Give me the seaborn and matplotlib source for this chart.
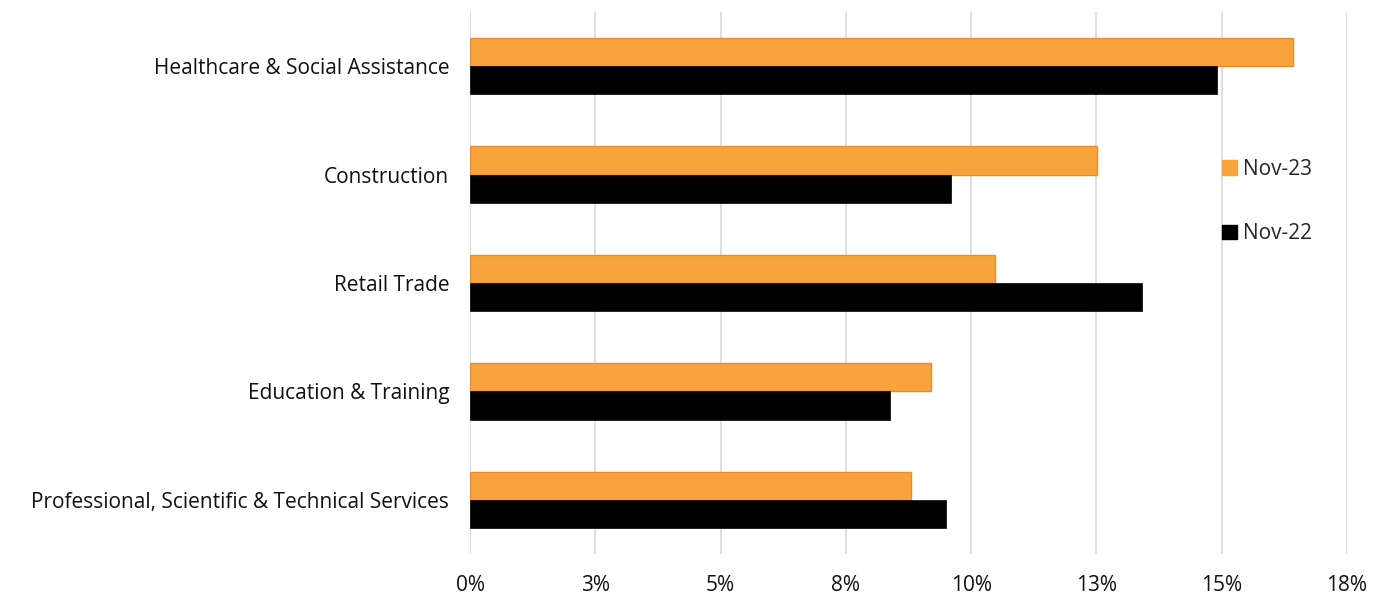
import matplotlib
matplotlib.use('Agg')
import matplotlib.pyplot as plt
import seaborn as sns
import pandas as pd
import numpy as np

# ── Data (share of employment growth, %) ─────────────────────────────────────
industries = [
    'Healthcare & Social Assistance',
    'Construction',
    'Retail Trade',
    'Education & Training',
    'Professional, Scientific & Technical Services',
]
nov23 = [16.42, 12.52, 10.48, 9.2, 8.8]
nov22 = [14.9, 9.6, 13.4, 8.38, 9.5]
series = ['Nov-23', 'Nov-22']
x_ticks = [0, 2.5, 5, 7.5, 10, 12.5, 15, 17.5]
x_tick_labels = ['0%', '3%', '5%', '8%', '10%', '13%', '15%', '18%']

df = pd.DataFrame({
    'industry': industries * 2,
    'series': [series[0]] * len(industries) + [series[1]] * len(industries),
    'value': nov23 + nov22,
})

sns.set_style('white')
plt.rcParams['font.family'] = ['Open Sans', 'DejaVu Sans']

fig = plt.figure(figsize=(13.84, 5.97), dpi=100)
ax = fig.add_axes([0.3396, 0.072, 0.9733 - 0.3396, 0.908])

palette = {'Nov-23': '#F9A33D', 'Nov-22': '#000000'}
sns.barplot(data=df, y='industry', x='value', hue='series', order=industries,
            hue_order=series, palette=palette, orient='h', width=0.52,
            saturation=1, ax=ax, zorder=3)

# orange bars get a thin darker outline, black bars none
for bar in ax.containers[0]:
    bar.set_edgecolor('#EE8A2E')
    bar.set_linewidth(1.0)
for bar in ax.containers[1]:
    bar.set_edgecolor('#000000')
    bar.set_linewidth(0.5)

ax.set_xlim(0, 17.5)
ax.set_ylim(len(industries) - 0.5, -0.5)
ax.set_xticks(x_ticks)
ax.set_xticklabels(x_tick_labels)
ax.grid(axis='x', color='#D9D9D9', linewidth=1.2, zorder=0)
ax.set_axisbelow(True)
for s in ax.spines.values():
    s.set_visible(False)
ax.set_xlabel('')
ax.set_ylabel('')
ax.tick_params(axis='both', length=0, labelsize=15, colors='#111111')
ax.tick_params(axis='x', pad=15)
ax.tick_params(axis='y', pad=15)

leg = ax.legend(loc='upper left', bbox_to_anchor=(0.848, 0.745), frameon=False,
                fontsize=15, handlelength=0.7, handleheight=0.7,
                handletextpad=0.3, labelspacing=2.1, borderaxespad=0)
for h in leg.legend_handles:
    h.set_edgecolor(h.get_facecolor())

fig.savefig('out.png', dpi=100)
